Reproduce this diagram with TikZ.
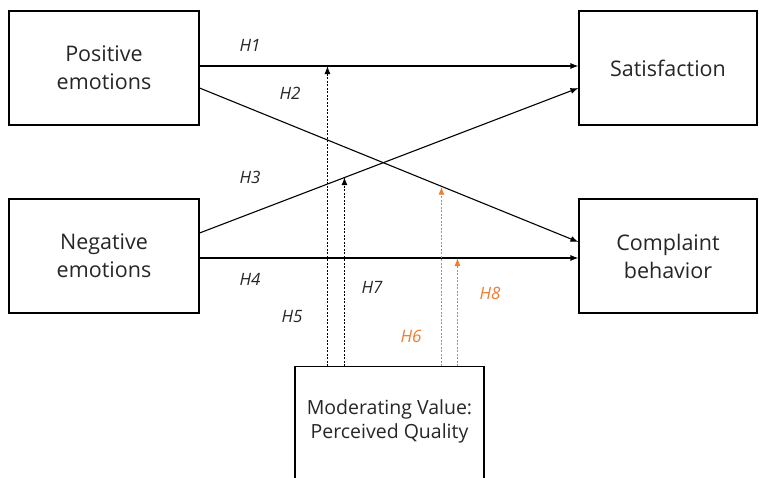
\documentclass[tikz,border=0pt]{standalone}
\usepackage{fontspec}
\setmainfont{Open Sans}
\usetikzlibrary{arrows.meta,calc}
\definecolor{orng}{HTML}{ED7D31}
\definecolor{txt}{HTML}{262626}
\begin{document}
\begin{tikzpicture}[x=1pt,y=-1pt,
  box/.style={draw=black,line width=1.1pt,minimum width=190pt,minimum height=114pt,inner sep=0pt,align=center,text=txt,font=\fontsize{21.5}{28}\selectfont},
  arr/.style={line width=1.1pt,-{Latex[length=8pt,width=6pt]}},
  dot/.style={line width=1pt,dash pattern=on 2pt off 1.5pt,-{Latex[length=8pt,width=6pt]}},
  hl/.style={font=\fontsize{17}{20}\selectfont\itshape,text=txt,inner sep=0pt},
  ho/.style={hl,text=orng}]
\useasboundingbox (0,0) rectangle (759,477);
\clip (0,0) rectangle (759,477);
\node[box] (pos) at (104,68) {Positive\\emotions};
\node[box] (neg) at (104,256) {Negative\\emotions};
\node[box,minimum width=178pt] (sat) at (668,68) {Satisfaction};
\node[box,minimum width=178pt] (com) at (668,256) {Complaint\\behavior};
\node[draw=black,line width=1.1pt,minimum width=189pt,minimum height=140pt,inner sep=0pt,anchor=north] (mod) at (389.5,366) {};
\node[text=txt,align=center,font=\fontsize{19.5}{24}\selectfont] (modtext) at (389.5,421) {Moderating Value:\\Perceived Quality};
% main paths
\coordinate (p1) at ($(pos.east)+(0,-2)$);
\coordinate (s1) at ($(sat.west)+(0,-2)$);
\coordinate (p2) at ($(pos.east)+(0,20)$);
\coordinate (c2) at ($(com.west)+(0,-14)$);
\coordinate (n3) at ($(neg.east)+(0,-23)$);
\coordinate (s3) at ($(sat.west)+(0,20)$);
\coordinate (n4) at ($(neg.east)+(0,2)$);
\coordinate (c4) at ($(com.west)+(0,2)$);
\draw[arr] (p1) -- (s1);
\draw[arr] (p2) -- (c2);
\draw[arr] (n3) -- (s3);
\draw[arr] (n4) -- (c4);
% moderating arrows
\coordinate (m5) at ($(mod.north west)+(33,0)$);
\coordinate (m7) at ($(mod.north west)+(50,0)$);
\coordinate (m6) at ($(mod.north west)+(147,0)$);
\coordinate (m8) at ($(mod.north west)+(163,0)$);
\coordinate (t7) at ($(n3)!{(345-199)/379}!(s3)$);
\coordinate (t6) at ($(p2)!{(442-199)/379}!(c2)$);
\draw[dot] (m5) -- (m5 |- p1);
\draw[dot] (m7) -- (m7 |- t7);
\draw[dot,draw=orng,-{Latex[length=8pt,width=6pt,fill=orng]}] (m6) -- (m6 |- t6);
\draw[dot,draw=orng,-{Latex[length=8pt,width=6pt,fill=orng]}] (m8) -- (m8 |- n4);
% labels
\node[hl] (h1) at (250,45) {H1};
\node[hl] (h2) at (290,93) {H2};
\node[hl] (h3) at (250,177) {H3};
\node[hl] (h4) at (250,279) {H4};
\node[hl] (h5) at (292,317) {H5};
\node[hl] (h7) at (372,287) {H7};
\node[ho] (h6) at (411,336) {H6};
\node[ho] (h8) at (490,293) {H8};
\end{tikzpicture}
\end{document}
